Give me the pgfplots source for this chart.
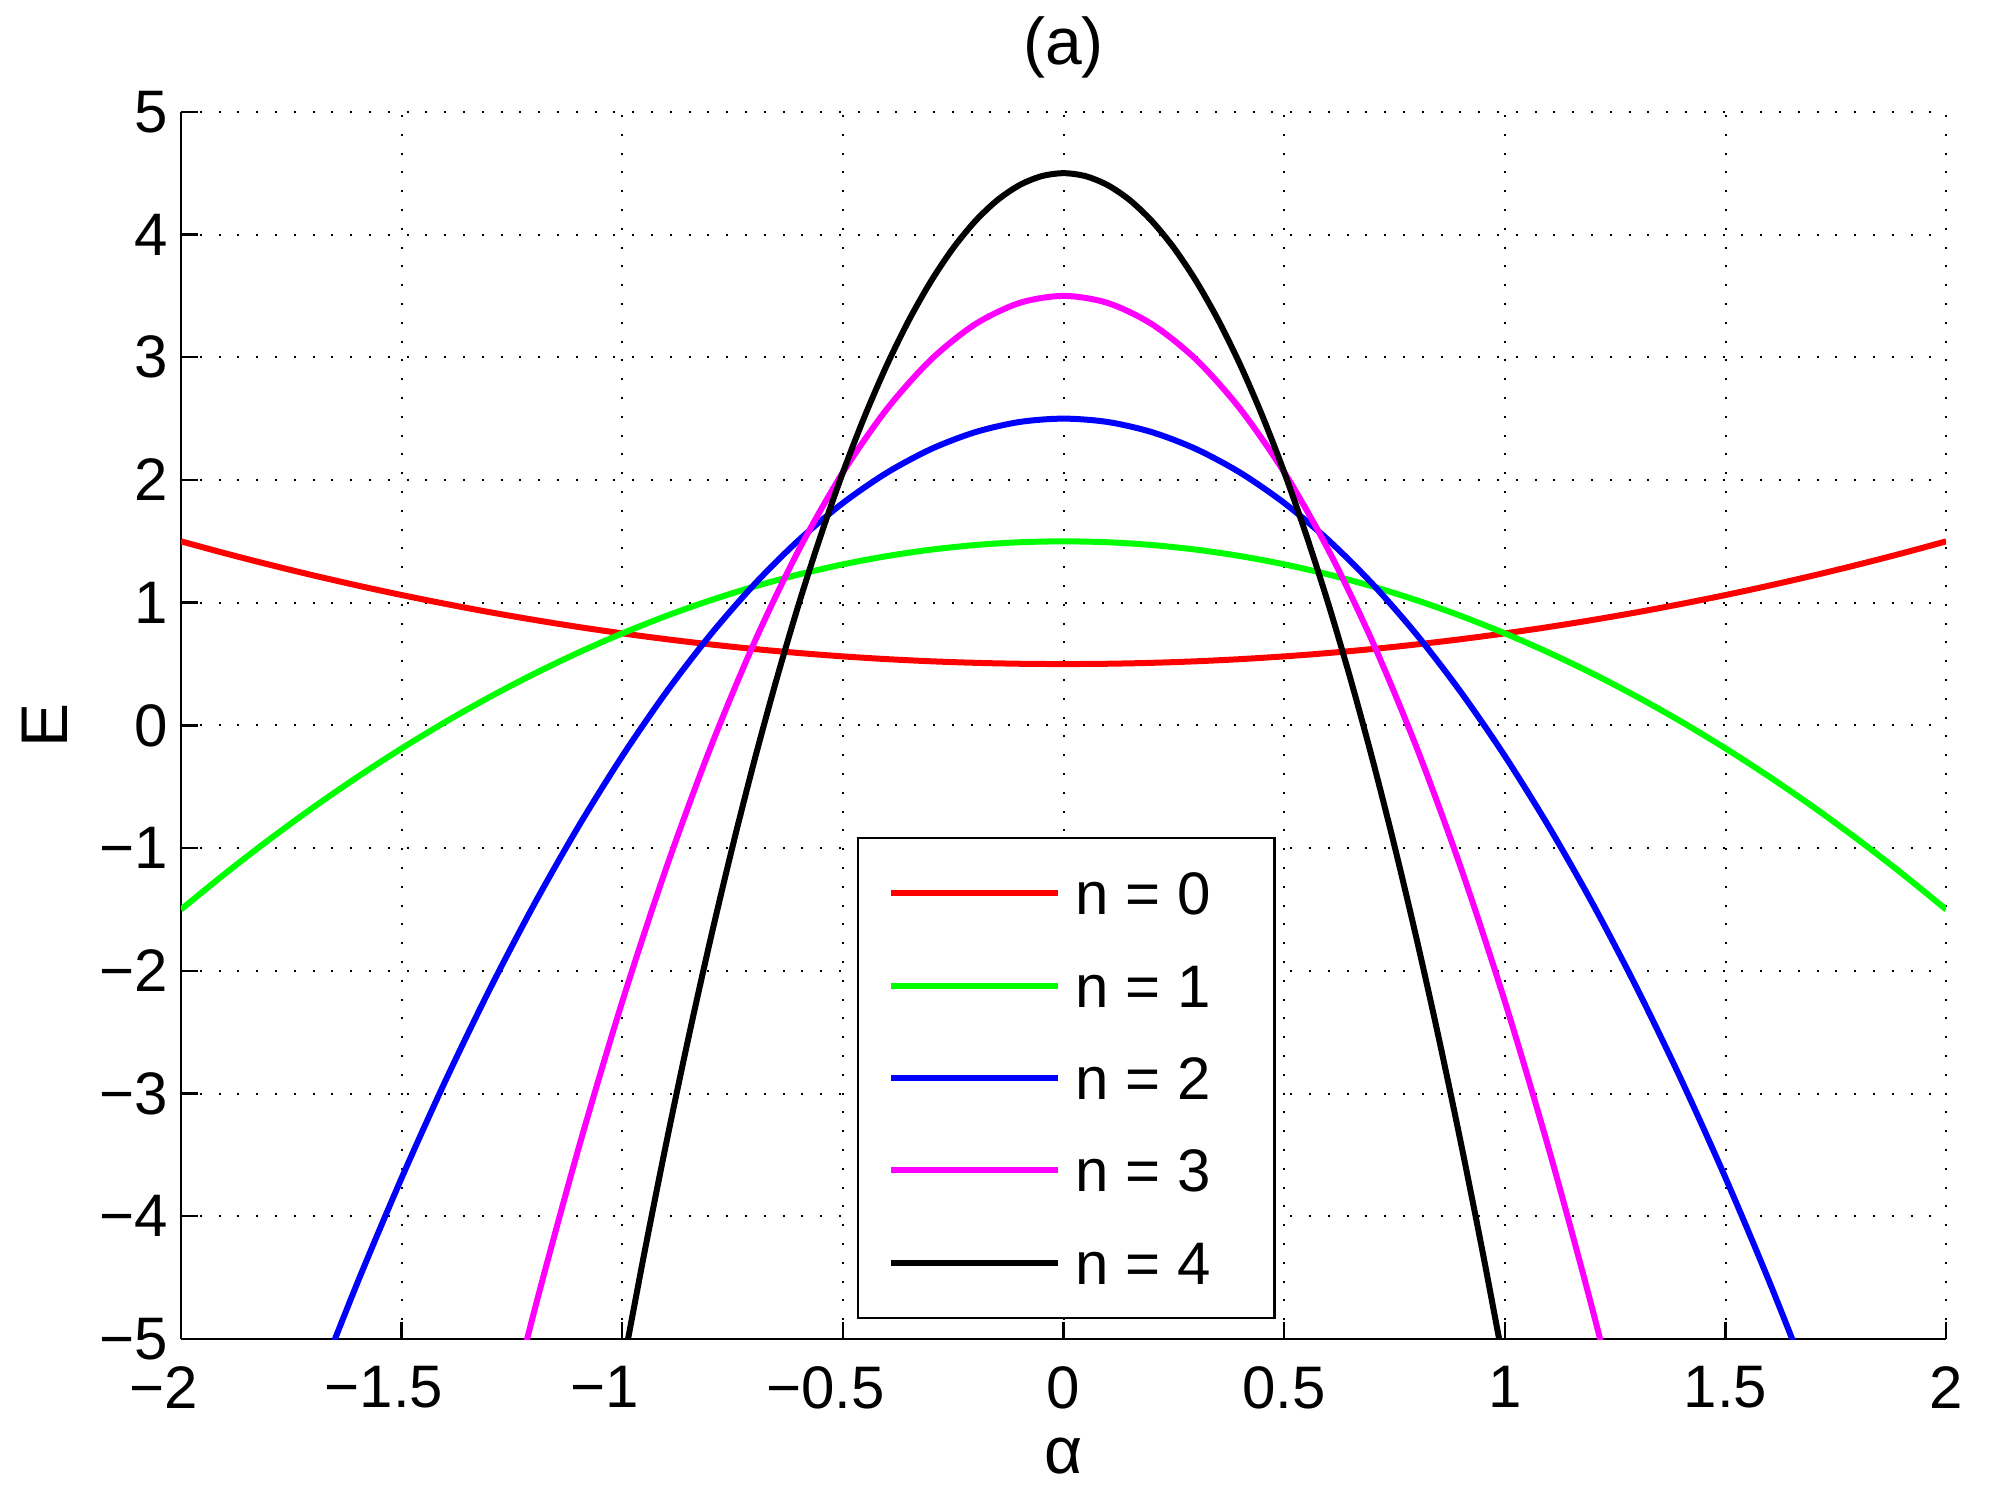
\documentclass[border=0pt]{standalone}
\usepackage{pgfplots}
\pgfplotsset{compat=1.18}
\usepackage{fontspec}
\setmainfont{Liberation Sans}
\definecolor{cred}{rgb}{1,0,0}
\definecolor{cgreen}{rgb}{0,1,0}
\definecolor{cblue}{rgb}{0,0,1}
\definecolor{cmag}{rgb}{1,0,1}
\begin{document}
\begin{tikzpicture}
\useasboundingbox (-45.25pt,-38.5pt) rectangle (456pt,334.75pt);
\begin{axis}[
  at={(0pt,0pt)}, anchor=south west,
  width=441.3pt, height=306.8pt, scale only axis,
  xmin=-2, xmax=2, ymin=-5, ymax=5,
  axis x line=bottom, axis y line=left,
  axis line style={-, line width=0.6pt, black},
  tick align=inside, major tick length=4.3pt,
  tick style={line width=0.6pt, black},
  xtick={-2,-1.5,-1,-0.5,0,0.5,1,1.5,2},
  xticklabels={\llap{−}2,\llap{−}1.5,\llap{−}1,\llap{−}0.5,0,0.5,1,1.5,2},
  ytick={-5,-4,-3,-2,-1,0,1,2,3,4,5},
  yticklabels={−5,−4,−3,−2,−1,0,1,2,3,4,5},
  ticklabel style={font=\fontsize{15}{18}\selectfont},
  xticklabel style={inner sep=1pt, yshift=-5.6pt},
  yticklabel style={inner sep=1pt, xshift=-2pt},
  grid=major,
  major grid style={black, line width=0.5pt, dash pattern=on 0.5pt off 4.2pt},
  xlabel={α}, ylabel={E},
  xlabel style={font=\fontsize{16.5}{20}\selectfont, at={(axis description cs:0.5,-0.0954)}, anchor=center},
  ylabel style={font=\fontsize{16.5}{20}\selectfont, at={(axis description cs:-0.077,0.5)}, anchor=center},
  title={(a)},
  every axis title shift=0pt,
  title style={font=\fontsize{16.5}{20}\selectfont, at={(axis description cs:0.5,1)}, anchor=base, yshift=11.75pt},
  legend style={at={(axis description cs:0.3828,0.0163)}, anchor=south west,
    draw=black, line width=0.6pt, fill=white,
    inner xsep=7.6pt, inner ysep=8.36pt,
    font=\fontsize{15}{18}\selectfont,
    row sep=12.3pt, column sep=3.6pt,
    nodes={inner sep=0pt, text height=10.8pt, text depth=0pt}},
  legend cell align=left,
  legend image code/.code={\draw[#1, line width=1.5pt] (0pt,0pt) -- (41.7pt,0pt);},
  every axis plot/.append style={line width=1.5pt, smooth},
]
\addplot[color=cred] coordinates {
(-2.0,1.5) (-1.9,1.4025) (-1.8,1.31) (-1.7,1.2225) (-1.6,1.14) (-1.5,1.0625) (-1.4,0.99) (-1.3,0.9225) (-1.2,0.86) (-1.1,0.8025) (-1.0,0.75)
(-0.9,0.7025) (-0.8,0.66) (-0.7,0.6225) (-0.6,0.59) (-0.5,0.5625) (-0.4,0.54) (-0.3,0.5225) (-0.2,0.51) (-0.1,0.5025) (0,0.5)
(0.1,0.5025) (0.2,0.51) (0.3,0.5225) (0.4,0.54) (0.5,0.5625) (0.6,0.59) (0.7,0.6225) (0.8,0.66) (0.9,0.7025) (1.0,0.75)
(1.1,0.8025) (1.2,0.86) (1.3,0.9225) (1.4,0.99) (1.5,1.0625) (1.6,1.14) (1.7,1.2225) (1.8,1.31) (1.9,1.4025) (2.0,1.5)};
\addlegendentry{n = 0\hspace*{8.4pt}}
\addplot[color=cgreen] coordinates {
(-2.0,-1.5) (-1.9,-1.2075) (-1.8,-0.93) (-1.7,-0.6675) (-1.6,-0.42) (-1.5,-0.1875) (-1.4,0.03) (-1.3,0.2325) (-1.2,0.42) (-1.1,0.5925) (-1.0,0.75)
(-0.9,0.8925) (-0.8,1.02) (-0.7,1.1325) (-0.6,1.23) (-0.5,1.3125) (-0.4,1.38) (-0.3,1.4325) (-0.2,1.47) (-0.1,1.4925) (0,1.5)
(0.1,1.4925) (0.2,1.47) (0.3,1.4325) (0.4,1.38) (0.5,1.3125) (0.6,1.23) (0.7,1.1325) (0.8,1.02) (0.9,0.8925) (1.0,0.75)
(1.1,0.5925) (1.2,0.42) (1.3,0.2325) (1.4,0.03) (1.5,-0.1875) (1.6,-0.42) (1.7,-0.6675) (1.8,-0.93) (1.9,-1.2075) (2.0,-1.5)};
\addlegendentry{n = 1}
\addplot[color=cblue] coordinates {
(-1.7,-5.4475) (-1.6,-4.54) (-1.5,-3.6875) (-1.4,-2.89) (-1.3,-2.1475) (-1.2,-1.46) (-1.1,-0.8275) (-1.0,-0.25)
(-0.9,0.2725) (-0.8,0.74) (-0.7,1.1525) (-0.6,1.51) (-0.5,1.8125) (-0.4,2.06) (-0.3,2.2525) (-0.2,2.39) (-0.1,2.4725) (0,2.5)
(0.1,2.4725) (0.2,2.39) (0.3,2.2525) (0.4,2.06) (0.5,1.8125) (0.6,1.51) (0.7,1.1525) (0.8,0.74) (0.9,0.2725) (1.0,-0.25)
(1.1,-0.8275) (1.2,-1.46) (1.3,-2.1475) (1.4,-2.89) (1.5,-3.6875) (1.6,-4.54) (1.7,-5.4475)};
\addlegendentry{n = 2}
\addplot[color=cmag] coordinates {
(-1.3,-6.2175) (-1.2,-4.78) (-1.1,-3.4575) (-1.0,-2.25)
(-0.9,-1.1575) (-0.8,-0.18) (-0.7,0.6825) (-0.6,1.43) (-0.5,2.0625) (-0.4,2.58) (-0.3,2.9825) (-0.2,3.27) (-0.1,3.4425) (0,3.5)
(0.1,3.4425) (0.2,3.27) (0.3,2.9825) (0.4,2.58) (0.5,2.0625) (0.6,1.43) (0.7,0.6825) (0.8,-0.18) (0.9,-1.1575) (1.0,-2.25)
(1.1,-3.4575) (1.2,-4.78) (1.3,-6.2175)};
\addlegendentry{n = 3}
\addplot[color=black] coordinates {
(-1.0,-5.25) (-0.95,-4.2994) (-0.9,-3.3975) (-0.85,-2.5444) (-0.8,-1.74) (-0.75,-0.9844) (-0.7,-0.2775) (-0.65,0.3806) (-0.6,0.99)
(-0.55,1.5506) (-0.5,2.0625) (-0.45,2.5256) (-0.4,2.94) (-0.35,3.3056) (-0.3,3.6225) (-0.25,3.8906) (-0.2,4.11) (-0.15,4.2806) (-0.1,4.4025) (-0.05,4.4756) (0,4.5)
(0.05,4.4756) (0.1,4.4025) (0.15,4.2806) (0.2,4.11) (0.25,3.8906) (0.3,3.6225) (0.35,3.3056) (0.4,2.94) (0.45,2.5256) (0.5,2.0625)
(0.55,1.5506) (0.6,0.99) (0.65,0.3806) (0.7,-0.2775) (0.75,-0.9844) (0.8,-1.74) (0.85,-2.5444) (0.9,-3.3975) (0.95,-4.2994) (1.0,-5.25)};
\addlegendentry{n = 4}
\end{axis}
\end{tikzpicture}
\end{document}
